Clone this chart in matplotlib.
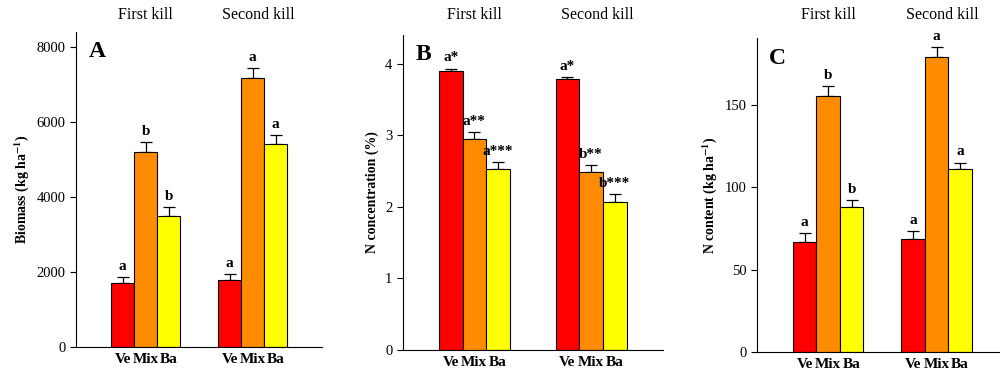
import matplotlib.pyplot as plt
import matplotlib.transforms as mtransforms
import numpy as np

plt.rcParams['font.family'] = ['Liberation Serif', 'DejaVu Serif']
plt.rcParams['mathtext.fontset'] = 'stix'
plt.rcParams['mathtext.default'] = 'bf'

treatments = ['Ve', 'Mix', 'Ba']
kills = ['First kill', 'Second kill']
colors = ['#ff0000', '#ff8c00', '#ffff00']

# biomass (kg/ha), [first kill, second kill] x [Ve, Mix, Ba]
biomass = [[1715, 5210, 3500], [1790, 7180, 5410]]
biomass_err = [[150, 250, 240], [150, 250, 250]]
biomass_sig = [['a', 'b', 'b'], ['a', 'a', 'a']]

# N concentration (%)
nconc = [[3.89, 2.95, 2.53], [3.78, 2.49, 2.07]]
nconc_err = [[0.04, 0.09, 0.10], [0.03, 0.09, 0.11]]
nconc_sig = [['a*', 'a**', 'a***'], ['a*', 'b**', 'b***']]

# N content (kg/ha)
ncont = [[67, 155, 88], [68.3, 179, 110.8]]
ncont_err = [[5, 6, 4], [5, 6, 4]]
ncont_sig = [['a', 'b', 'b'], ['a', 'a', 'a']]

fig = plt.figure(figsize=(10, 3.75), dpi=100)

panels = [
    ('A', [0.076, 0.0747, 0.246, 0.84], biomass, biomass_err, biomass_sig,
     'Biomass (kg ha$^{-1}$)', [0, 2000, 4000, 6000, 8000], 8400, 10.7, 4.65),
    ('B', [0.4027, 0.0667, 0.260, 0.84], nconc, nconc_err, nconc_sig,
     'N concentration (%)', [0, 1, 2, 3, 4], 4.4, 11.0, 4.94),
    ('C', [0.757, 0.0605, 0.243, 0.837], ncont, ncont_err, ncont_sig,
     'N content (kg ha$^{-1}$)', [0, 50, 100, 150], 190, 10.34, 4.61),
]

for letter, rect, vals, errs, sigs, ylab, yt, ymax, xmax, gap in panels:
    ax = fig.add_axes(rect)
    title_tr = mtransforms.blended_transform_factory(ax.transData, fig.transFigure)
    allx = []
    for g in range(2):
        x0 = 1.53 + g * gap
        xs = x0 + np.arange(3) + 0.5
        allx += list(xs)
        v = np.array(vals[g])
        e = np.array(errs[g])
        ax.bar(xs, v, width=1.0, color=colors, edgecolor='black', linewidth=0.8, zorder=2)
        ax.errorbar(xs, v, yerr=[np.zeros(3), e], fmt='none', ecolor='black',
                    elinewidth=0.9, capsize=4, capthick=0.9, zorder=1)
        for xi, vi, ei, s in zip(xs, v, e, sigs[g]):
            ax.annotate(s, (xi, vi + ei), xytext=(0, 3), textcoords='offset points',
                        ha='center', va='bottom', fontsize=11, fontweight='bold')
        # group title above the axes
        ax.text(x0 + 1.5 + 0.25 * g, 0.96, kills[g], transform=title_tr,
                ha='center', va='center', fontsize=11.5)
    ax.set_xticks(allx)
    ax.set_xticklabels(treatments * 2, fontsize=11, fontweight='bold')
    ax.tick_params(axis='x', length=0, pad=4)
    ax.set_xlim(0, xmax)
    ax.set_ylim(0, ymax)
    ax.set_yticks(yt)
    ax.tick_params(axis='y', direction='out', length=4, labelsize=10.5)
    ax.set_ylabel(ylab, fontsize=10, fontweight='bold')
    ax.spines['top'].set_visible(False)
    ax.spines['right'].set_visible(False)
    ax.text(0.05, 0.97, letter, transform=ax.transAxes, ha='left', va='top',
            fontsize=17, fontweight='bold')

fig.savefig('out.png', dpi=100)
